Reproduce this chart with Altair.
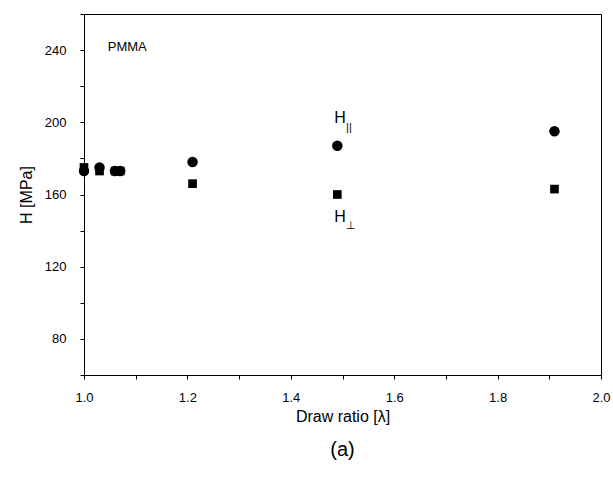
import altair as alt
import pandas as pd

# Data
ratio = [1.00, 1.03, 1.06, 1.07, 1.21, 1.49, 1.91]
h_par = [173, 175, 173, 173, 178, 187, 195]
h_perp = [175, 173, 173, 173, 166, 160, 163]

df_par = pd.DataFrame({"x": ratio, "y": h_par})
df_perp = pd.DataFrame({"x": ratio, "y": h_perp})

# Annotations (data units)
lab_main = pd.DataFrame({"x": [1.046, 1.484, 1.484], "y": [241.5, 202.5, 147.5], "t": ["PMMA", "H", "H"], "s": [13, 16, 16]})
lab_sub = pd.DataFrame({"x": [1.507, 1.507], "y": [197.0, 142.5], "t": ["||", "⊥"]})

x_ticks = [1.0, 1.1, 1.2, 1.3, 1.4, 1.5, 1.6, 1.7, 1.8, 1.9, 2.0]
y_ticks = [60, 80, 100, 120, 140, 160, 180, 200, 220, 240, 260]

FONT = "Liberation Sans"
xs = alt.Scale(domain=[1.0, 2.0], nice=False, zero=False)
ys = alt.Scale(domain=[60, 260], nice=False, zero=False)

xax = alt.Axis(values=x_ticks,
               labelExpr="round(datum.value*10) % 2 == 0 ? format(datum.value, '.1f') : ''",
               title="Draw ratio [λ]", grid=False, tickSize=4, labelPadding=12, labelFlush=False,
               titlePadding=4, titleFontSize=16, titleFontWeight="normal")
yax = alt.Axis(values=y_ticks,
               labelExpr="round(datum.value) % 40 == 0 ? format(datum.value, 'd') : ''",
               title="H [MPa]", grid=False, tickSize=4, labelPadding=14, labelFlush=False,
               titlePadding=10, titleFontSize=16, titleFontWeight="normal")

X = alt.X("x:Q", scale=xs, axis=xax)
Y = alt.Y("y:Q", scale=ys, axis=yax)

circles = alt.Chart(df_par).mark_point(shape="circle", filled=True, size=110, color="black", opacity=1).encode(x=X, y=Y)
squares = alt.Chart(df_perp).mark_point(shape="square", filled=True, size=75, color="black", opacity=1).encode(x=X, y=Y)
t_main = alt.Chart(lab_main).mark_text(align="left", baseline="middle", font=FONT, color="black").encode(
    x=X, y=Y, text="t:N",
    size=alt.Size("s:Q", scale=None, legend=None),
)
t_sub = alt.Chart(lab_sub).mark_text(align="left", baseline="middle", font=FONT, fontSize=11, color="black").encode(
    x=X, y=Y, text="t:N",
)

chart = alt.layer(circles, squares, t_main, t_sub).properties(
    width=517, height=361,
    autosize=alt.AutoSizeParams(type="none"),
    padding={"left": 84, "top": 14, "right": 12, "bottom": 105},
    title=alt.TitleParams("(a)", orient="bottom", fontSize=20, fontWeight="normal", font=FONT, offset=16, anchor="middle"),
).configure_view(stroke="black", strokeWidth=1).configure_axis(
    labelFont=FONT, titleFont=FONT, labelFontSize=13, labelColor="black", titleColor="black",
    domainColor="black", tickColor="black",
)

chart.save("out.html", embed_options={"renderer": "svg", "actions": False})
